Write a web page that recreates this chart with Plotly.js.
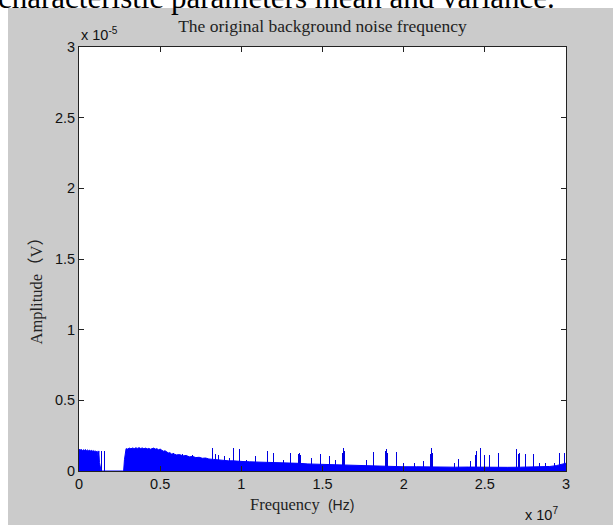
<!DOCTYPE html>
<html>
<head>
<meta charset="utf-8">
<script src="https://cdn.plot.ly/plotly-3.0.1.min.js"></script>
<style>html,body{margin:0;padding:0;background:#fff;}#chart{width:613px;height:525px;}</style>
</head>
<body>
<div id="chart"></div>
<script>
// Frequency in units of 1e7 Hz, amplitude in units of 1e-5 V (as displayed on the MATLAB axes)
var bandFreq = [0,0.004,0.01,0.016,0.022,0.028,0.034,0.04,0.046,0.052,0.058,0.064,0.07,0.076,0.082,0.088,0.094,0.1,0.106,0.112,0.118,0.122,0.126,0.13,0.133,0.136,
  0.27,0.275,0.28,0.285,0.29,0.3,0.31,0.32,0.33,0.34,0.35,0.36,0.37,0.38,0.39,0.40,0.41,0.42,0.43,0.44,0.45,0.46,0.47,0.48,0.49,0.50,
  0.51,0.52,0.53,0.54,0.55,0.56,0.57,0.58,0.60,0.62,0.64,0.66,0.68,0.70,0.72,0.74,0.76,0.78,0.80,0.83,0.86,0.89,0.92,0.95,0.98,1.01,
  1.05,1.09,1.13,1.17,1.21,1.26,1.31,1.36,1.41,1.46,1.52,1.58,1.64,1.70,1.76,1.82,1.88,1.94,2.0,2.08,2.16,2.24,2.32,2.40,2.48,2.56,
  2.64,2.72,2.80,2.86,2.90,2.94,2.97,3.0];
var bandAmp = [0.15,0.155,0.148,0.152,0.145,0.15,0.146,0.152,0.144,0.149,0.143,0.148,0.141,0.146,0.14,0.145,0.138,0.143,0.136,0.14,0.1,0.142,0.06,0.03,0.01,0,
  0,0,0.08,0.15,0.158,0.155,0.162,0.157,0.163,0.158,0.164,0.16,0.165,0.159,0.163,0.157,0.162,0.156,0.16,0.154,0.159,0.162,0.155,0.158,0.15,0.155,
  0.147,0.14,0.143,0.132,0.128,0.13,0.12,0.122,0.114,0.116,0.107,0.11,0.1,0.103,0.095,0.097,0.09,0.092,0.085,0.082,0.078,0.078,0.072,0.072,0.068,0.067,
  0.065,0.064,0.062,0.06,0.058,0.057,0.055,0.054,0.05,0.048,0.045,0.043,0.04,0.039,0.036,0.035,0.032,0.032,0.03,0.03,0.028,0.029,0.027,0.028,0.026,0.027,
  0.026,0.027,0.027,0.029,0.032,0.038,0.045,0.055];

var spikeFreq = [0.14,0.16,0.56,0.58,0.64,0.70,0.824,0.838,0.86,0.899,0.925,0.951,0.988,1.033,1.09,1.16,1.20,1.26,1.30,1.35,1.357,1.365,
  1.433,1.485,1.542,1.583,1.622,1.628,1.634,1.772,1.817,1.89,1.895,1.90,1.957,2.0,2.068,2.125,2.165,2.17,2.176,2.314,2.339,2.41,
  2.44,2.447,2.474,2.499,2.53,2.587,2.694,2.71,2.715,2.752,2.80,2.834,2.875,2.93,2.96,2.99];
var spikeAmp = [0.14,0.145,0.13,0.125,0.12,0.11,0.163,0.12,0.11,0.108,0.094,0.16,0.153,0.078,0.108,0.144,0.13,0.078,0.13,0.12,0.13,0.11,
  0.094,0.118,0.108,0.078,0.13,0.16,0.14,0.078,0.137,0.14,0.153,0.13,0.137,0.06,0.06,0.073,0.12,0.16,0.13,0.054,0.083,0.073,
  0.11,0.144,0.16,0.113,0.113,0.13,0.153,0.12,0.125,0.12,0.12,0.054,0.054,0.06,0.125,0.13];

var chartTitle = 'The original background noise frequency';
var topCaption = 'characteristic parameters mean and variance.';

var serif = 'Liberation Serif, Times New Roman, Noto Sans CJK SC, serif';
var sans = 'Liberation Sans, Arial, sans-serif';

var traces = [
  {type:'scatter', mode:'lines', x:bandFreq, y:bandAmp, fill:'tozeroy',
   fillcolor:'#0000ff', line:{color:'#0000ff', width:1}, hoverinfo:'skip'},
  {type:'bar', x:spikeFreq, y:spikeAmp, width:0.006,
   marker:{color:'#0000e0', line:{width:0}}, hoverinfo:'skip'}
];

var axisCommon = {
  showline:true, mirror:'ticks', linecolor:'#222', linewidth:1,
  ticks:'inside', ticklen:5, tickcolor:'#222', tickwidth:1,
  showgrid:false, zeroline:false, dtick:0.5, tick0:0,
  tickfont:{family:sans, size:14.5, color:'#111'}, fixedrange:true
};

var layout = {
  width:613, height:525, autosize:false,
  margin:{l:79, r:47, t:47, b:54, pad:0},
  paper_bgcolor:'#ffffff', plot_bgcolor:'#ffffff',
  showlegend:false, bargap:0,
  title:{text:chartTitle, font:{family:serif, size:17.5, color:'#222'},
         x:0.5, xref:'paper', xanchor:'center', y:1-26/525, yref:'container', yanchor:'middle'},
  xaxis:Object.assign({range:[0,3]}, axisCommon),
  yaxis:Object.assign({range:[0,3]}, axisCommon),
  shapes:[
    {type:'rect', xref:'paper', yref:'paper', x0:(8-79)/487, x1:(613-79)/487, y0:(471-525)/424, y1:(471-8)/424,
     fillcolor:'#cbcbcb', line:{width:0}, layer:'below'},
    {type:'rect', xref:'paper', yref:'paper', x0:0, x1:1, y0:0, y1:1,
     fillcolor:'#ffffff', line:{width:0}, layer:'below'}
  ],
  annotations:[
    {text:topCaption, xref:'paper', yref:'paper', x:(557-79)/487, y:(471+22)/424,
     xanchor:'right', yanchor:'top', showarrow:false, font:{family:serif, size:31, color:'#000'}},
    {text:'x 10<sup>-5</sup>', xref:'paper', yref:'paper', x:0, y:(471-45)/424,
     xanchor:'left', yanchor:'bottom', showarrow:false, font:{family:sans, size:14.5, color:'#111'}},
    {text:'x 10<sup>7</sup>', xref:'paper', yref:'paper', x:(560-79)/487, y:(471-525)/424,
     xanchor:'right', yanchor:'bottom', showarrow:false, font:{family:sans, size:14.5, color:'#111'}},
    {text:'Frequency&nbsp;&nbsp;<span style="font-family:Liberation Sans;font-size:14px">(Hz)</span>',
     xref:'paper', yref:'paper', x:(248-79)/487, y:(471-504.5)/424,
     xanchor:'left', yanchor:'middle', showarrow:false, font:{family:serif, size:16.5, color:'#222'}},
    {text:'Amplitude（V）', xref:'paper', yref:'paper', x:(35.5-79)/487, y:(471-287)/424,
     xanchor:'center', yanchor:'middle', textangle:-90, showarrow:false, font:{family:serif, size:16.5, color:'#222'}}
  ]
};

Plotly.newPlot('chart', traces, layout, {displayModeBar:false, staticPlot:true});
</script>
</body>
</html>
